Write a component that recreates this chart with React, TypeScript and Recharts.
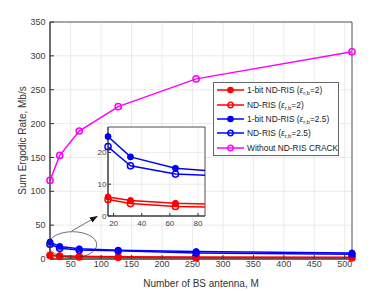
import {
  LineChart,
  Line,
  XAxis,
  YAxis,
  CartesianGrid,
  Legend,
  ReferenceArea,
} from "recharts";

// number of BS antennas M
const antennas = [16, 32, 64, 128, 256, 512];
// sum ergodic rate, Mb/s
const oneBitEps2 = [6.0, 4.9, 4.0, 3.3, 2.9, 2.6];
const ndRisEps2 = [5.2, 3.9, 3.0, 2.4, 2.0, 1.7];
const oneBitEps25 = [25.0, 18.6, 15.0, 13.0, 11.0, 9.0];
const ndRisEps25 = [21.8, 15.8, 13.2, 12.0, 9.0, 7.0];
const withoutCrack = [116, 153, 189, 225, 266, 306];

const xTicks = [50, 100, 150, 200, 250, 300, 350, 400, 450, 500];
const yTicks = [0, 50, 100, 150, 200, 250, 300, 350];
const insetXTicks = [20, 40, 60, 80];
const insetYTicks = [0, 10, 20];

const data = antennas.map((m, i) => ({
  m,
  oneBitEps2: oneBitEps2[i],
  ndRisEps2: ndRisEps2[i],
  oneBitEps25: oneBitEps25[i],
  ndRisEps25: ndRisEps25[i],
  withoutCrack: withoutCrack[i],
}));

const series = [
  { key: "oneBitEps2", label: "1-bit ND-RIS", eps: "2", color: "#ff0000", filled: true },
  { key: "ndRisEps2", label: "ND-RIS", eps: "2", color: "#ff0000", filled: false },
  { key: "oneBitEps25", label: "1-bit ND-RIS", eps: "2.5", color: "#0000ff", filled: true },
  { key: "ndRisEps25", label: "ND-RIS", eps: "2.5", color: "#0000ff", filled: false },
  { key: "withoutCrack", label: "Without ND-RIS CRACK", eps: "", color: "#ff00ff", filled: false },
];

const font = "'Liberation Sans', Arial, sans-serif";
const axisColor = "#404040";

const dotFor = (color: string, filled: boolean, clip = true) =>
  filled
    ? { r: 3, fill: color, stroke: color, strokeWidth: 1, clipDot: clip }
    : { r: 3.1, fill: "none", stroke: color, strokeWidth: 1.5, clipDot: clip };

const LegendBox = () => (
  <div
    style={{
      border: "1px solid #666",
      background: "#fff",
      fontFamily: font,
      fontSize: 8.4,
      color: "#222",
      boxSizing: "border-box",
      width: 126,
      height: 74,
    }}
  >
    {series.map((s) => (
      <div
        key={s.key}
        style={{ display: "flex", alignItems: "center", height: 14.4, paddingLeft: 3 }}
      >
        <svg width={27} height={10} style={{ flexShrink: 0 }}>
          <line x1={0} x2={27} y1={5} y2={5} stroke={s.color} strokeWidth={1.5} />
          <circle
            cx={13.5}
            cy={5}
            r={s.filled ? 2.6 : 2.7}
            fill={s.filled ? s.color : "none"}
            stroke={s.color}
            strokeWidth={1.4}
          />
        </svg>
        <span style={{ marginLeft: 3, whiteSpace: "nowrap", lineHeight: "10px" }}>
          {s.label}
          {s.eps && (
            <>
              {" ("}
              <i>ε</i>
              <sub style={{ fontSize: 6, verticalAlign: "-2px", lineHeight: 0 }}>r,b</sub>={s.eps})
            </>
          )}
        </span>
      </div>
    ))}
  </div>
);

const App = () => {
  return (
    <div style={{ position: "absolute", left: 0, top: 0, width: 388, height: 291, background: "#fff" }}>
      <LineChart
        width={388}
        height={291}
        data={data}
        margin={{ top: 22, right: 36, bottom: 0, left: 0 }}
        style={{ fontFamily: font }}
      >
        <CartesianGrid stroke="#e4e4e4" strokeWidth={0.8} />
        <ReferenceArea x1={16} x2={512} y1={0} y2={350} fill="none" stroke="#333" strokeWidth={0.8} />
        <XAxis
          dataKey="m"
          type="number"
          domain={[16, 512]}
          ticks={xTicks}
          height={32}
          tickSize={-4}
          tickMargin={6}
          stroke="#333"
          tick={{ fontSize: 9, fill: axisColor }}
          label={{
            value: "Number of BS antenna, M",
            position: "insideBottom",
            offset: 4,
            style: { fontSize: 10, fill: "#333" },
          }}
        />
        <YAxis
          type="number"
          domain={[0, 350]}
          ticks={yTicks}
          width={50}
          tickSize={-4}
          tickMargin={8.5}
          stroke="#333"
          tick={{ fontSize: 9, fill: axisColor }}
          label={{
            value: "Sum  Ergodic Rate,  Mb/s",
            angle: -90,
            position: "insideLeft",
            offset: 22,
            style: { fontSize: 10, fill: "#333", textAnchor: "middle" },
          }}
        />
        <Legend
          layout="vertical"
          align="center"
          verticalAlign="middle"
          wrapperStyle={{ left: 213, top: 82, width: 126, height: 74 }}
          content={() => <LegendBox />}
        />
        {series.map((s) => (
          <Line
            key={s.key}
            dataKey={s.key}
            name={s.label}
            stroke={s.color}
            strokeWidth={1.5}
            dot={dotFor(s.color, s.filled)}
            activeDot={false}
            isAnimationActive={false}
          />
        ))}
      </LineChart>

      <svg
        width={388}
        height={291}
        style={{ position: "absolute", left: 0, top: 0, pointerEvents: "none" }}
      >
        <defs>
          <marker id="arrowHead" markerWidth="8" markerHeight="6" refX="7" refY="3" orient="auto" markerUnits="userSpaceOnUse">
            <path d="M0,0 L8,3 L0,6 Z" fill="#111" />
          </marker>
        </defs>
        <ellipse cx={72.5} cy={244.7} rx={24.2} ry={13} fill="none" stroke="#333" strokeWidth={0.7} />
        <line x1={71.7} y1={231} x2={97} y2={216.5} stroke="#333" strokeWidth={0.7} markerEnd="url(#arrowHead)" />
      </svg>

      <div style={{ position: "absolute", left: 88, top: 120 }}>
        <LineChart
          width={125}
          height={115}
          data={data}
          margin={{ top: 7, right: 8, bottom: 0, left: 0 }}
          style={{ fontFamily: font }}
        >
          <CartesianGrid stroke="#e4e4e4" strokeWidth={0.8} fill="#fff" fillOpacity={1} />
          <ReferenceArea x1={16} x2={85} y1={0} y2={28} fill="none" stroke="#333" strokeWidth={0.8} ifOverflow="visible" />
          <XAxis
            dataKey="m"
            type="number"
            domain={[16, 85]}
            allowDataOverflow
            ticks={insetXTicks}
            height={19}
            tickSize={-3}
            tickMargin={7}
            stroke="#333"
            tick={{ fontSize: 8, fill: axisColor }}
          />
          <YAxis
            type="number"
            domain={[0, 28]}
            allowDataOverflow
            ticks={insetYTicks}
            width={20}
            tickSize={-3}
            tickMargin={4.5}
            stroke="#333"
            tick={{ fontSize: 8, fill: axisColor }}
          />
          {series
            .filter((s) => s.key !== "withoutCrack")
            .map((s) => (
              <Line
                key={s.key}
                dataKey={s.key}
                stroke={s.color}
                strokeWidth={1.5}
                dot={dotFor(s.color, s.filled, false)}
                activeDot={false}
                isAnimationActive={false}
              />
            ))}
        </LineChart>
      </div>
    </div>
  );
};

export default App;
